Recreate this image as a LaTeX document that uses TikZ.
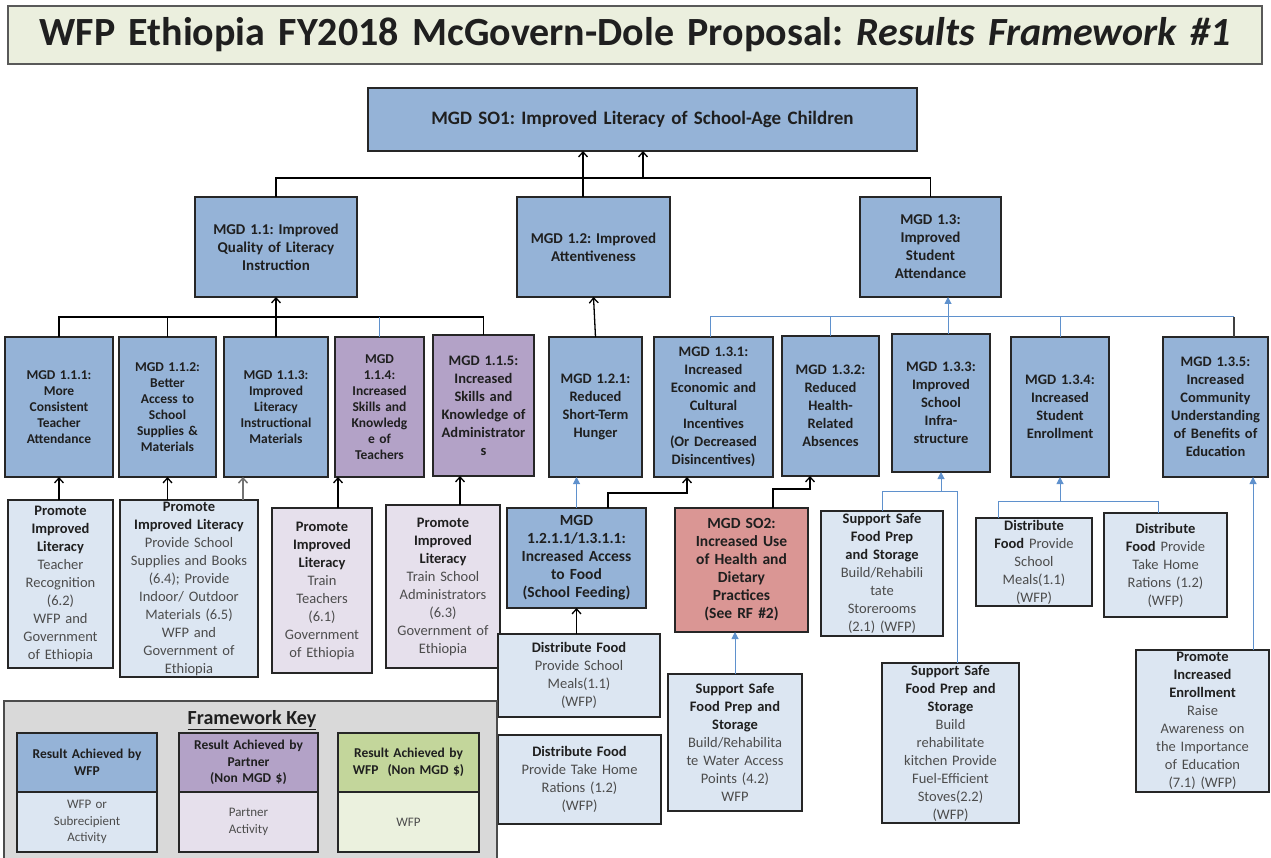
\documentclass[tikz,border=0pt]{standalone}
\usepackage{fontspec}
\setmainfont{Carlito}
\usetikzlibrary{arrows.meta,calc}
\frenchspacing
\definecolor{resblue}{RGB}{149,179,215}
\definecolor{respurple}{RGB}{179,162,199}
\definecolor{resgreen}{RGB}{195,214,155}
\definecolor{actblue}{RGB}{220,230,242}
\definecolor{actpurple}{RGB}{230,224,236}
\definecolor{actgreen}{RGB}{235,241,222}
\definecolor{sotwored}{RGB}{218,150,148}
\definecolor{titlebg}{RGB}{235,239,222}
\definecolor{keygray}{RGB}{217,217,217}
\definecolor{linkblue}{RGB}{95,145,205}
\newcommand{\bx}[7]{%
  \pgfmathsetmacro{\bxw}{#4-#2}\pgfmathsetmacro{\bxh}{#5-#3}\pgfmathsetmacro{\bxt}{#4-#2-4}%
  \node[#6, anchor=north west, minimum width=\bxw pt, minimum height=\bxh pt, text width=\bxt pt] (#1) at (#2,#3) {#7};}
\newcommand{\acthead}[1]{\textbf{\textcolor{black!88}{#1}}}
\begin{document}
\begin{tikzpicture}[x=1pt,y=-1pt,
  boxbase/.style={draw=black!85, line width=1.8pt, align=center, inner xsep=2pt, inner ysep=0pt, outer sep=0pt, text=black!88},
  resbox/.style={boxbase, fill=resblue},
  partbox/.style={boxbase, fill=respurple},
  actbox/.style={boxbase, fill=actblue, text=black!70},
  pactbox/.style={boxbase, fill=actpurple, text=black!70},
  ftwo/.style={font=\fontsize{15}{18}\selectfont\bfseries},
  fsmall/.style={font=\fontsize{13.5}{16}\selectfont\bfseries},
  fmid/.style={font=\fontsize{14.5}{18}\selectfont\bfseries},
  fact/.style={font=\fontsize{14.5}{18}\selectfont},
  fkey/.style={font=\fontsize{13}{16.5}\selectfont},
  blk/.style={draw=black, line width=1.3pt},
  blkarr/.style={blk, -{Straight Barb[length=5pt,width=9pt,line width=1.3pt]}},
  grayarr/.style={draw=black!55, line width=1.8pt, -{Straight Barb[length=5pt,width=9pt,line width=1.5pt]}},
  bl/.style={draw=linkblue, line width=1pt},
  blarr/.style={bl, -{Triangle[length=7pt,width=7pt]}}
]
\useasboundingbox (0,0) rectangle (1271,858);

% title
\bx{title}{8}{6}{1262}{64}{boxbase, fill=titlebg, draw=black!65, line width=2pt, font=\fontsize{40}{44}\selectfont\bfseries}{WFP Ethiopia FY2018 McGovern-Dole Proposal: \textit{Results Framework \#1}}

% level 1
\bx{so1}{368}{88}{917}{151}{resbox, font=\fontsize{19}{22}\selectfont\bfseries}{MGD SO1: Improved Literacy of School-Age Children}

% level 2
\bx{m11}{195}{197}{357}{297}{resbox, ftwo}{MGD 1.1: Improved\\Quality of Literacy\\Instruction}
\bx{m12}{517}{197}{670}{297}{resbox, ftwo}{MGD 1.2: Improved\\Attentiveness}
\bx{m13}{860}{197}{1001}{297}{resbox, ftwo}{MGD 1.3:\\Improved\\Student\\Attendance}

% level 3
\bx{m111}{5}{337}{113}{477}{resbox, fsmall}{MGD 1.1.1:\\More\\Consistent\\Teacher\\Attendance}
\bx{m112}{119}{337}{216}{477}{resbox, fsmall}{MGD 1.1.2:\\Better\\Access to\\School\\Supplies \&\\Materials}
\bx{m113}{224}{337}{328}{477}{resbox, fsmall}{MGD 1.1.3:\\Improved\\Literacy\\Instructional\\Materials}
\bx{m114}{335}{337}{424}{477}{partbox, fsmall}{MGD\\1.1.4:\\Increased\\Skills and\\Knowledg\\e of\\Teachers}
\bx{m115}{433}{335}{534}{476}{partbox, fmid}{MGD 1.1.5:\\Increased\\Skills and\\Knowledge of\\Administrator\\s}
\bx{m121}{549}{337}{642}{477}{resbox, fmid}{MGD 1.2.1:\\Reduced\\Short-Term\\Hunger}
\bx{m131}{654}{337}{773}{477}{resbox, fmid}{MGD 1.3.1:\\Increased\\Economic and\\Cultural\\Incentives\\(Or Decreased\\Disincentives)}
\bx{m132}{782}{336}{879}{476}{resbox, fmid}{MGD 1.3.2:\\Reduced\\Health-\\Related\\Absences}
\bx{m133}{892}{334}{990}{472}{resbox, fmid}{MGD 1.3.3:\\Improved\\School\\Infra-\\structure}
\bx{m134}{1011}{337}{1109}{477}{resbox, fmid}{MGD 1.3.4:\\Increased\\Student\\Enrollment}
\bx{m135}{1163}{337}{1268}{477}{resbox, fmid}{MGD 1.3.5:\\Increased\\Community\\Understanding\\of Benefits of\\Education}

% level 4 (left)
\bx{a1}{8}{500}{113}{668}{actbox, fact}{\acthead{Promote}\\\acthead{Improved}\\\acthead{Literacy}\\Teacher\\Recognition\\(6.2)\\WFP and\\Government\\of Ethiopia}
\bx{a2}{120}{500}{258}{677}{actbox, fact}{\acthead{Promote}\\\acthead{Improved Literacy}\\Provide School\\Supplies and Books\\(6.4); Provide\\Indoor/ Outdoor\\Materials (6.5)\\WFP and\\Government of\\Ethiopia}
\bx{a3}{272}{508}{372}{673}{pactbox, fact}{\acthead{Promote}\\\acthead{Improved}\\\acthead{Literacy}\\Train\\Teachers\\(6.1)\\Government\\of Ethiopia}
\bx{a4}{386}{505}{500}{668}{pactbox, fact}{\acthead{Promote}\\\acthead{Improved}\\\acthead{Literacy}\\Train School\\Administrators\\(6.3)\\Government of\\Ethiopia}

% level 4 (middle/right)
\bx{m1211}{507}{508}{646}{608}{resbox, font=\fontsize{15.5}{18}\selectfont\bfseries}{MGD\\1.2.1.1/1.3.1.1:\\Increased Access\\to Food\\(School Feeding)}
\bx{so2}{675}{508}{808}{632}{boxbase, fill=sotwored, font=\fontsize{15.5}{18}\selectfont\bfseries}{MGD SO2:\\Increased Use\\of Health and\\Dietary\\Practices\\(See RF \#2)}
\bx{df1}{498}{634}{660}{717}{actbox, fact}{\acthead{Distribute Food}\\Provide School\\Meals(1.1)\\(WFP)}
\bx{df2}{498}{735}{661}{824}{actbox, fact}{\acthead{Distribute Food}\\Provide Take Home\\Rations (1.2)\\(WFP)}
\bx{s1}{668}{674}{802}{811}{actbox, fact}{\acthead{Support Safe}\\\acthead{Food Prep and}\\\acthead{Storage}\\Build/Rehabilita\\te Water Access\\Points (4.2)\\WFP}
\bx{s2}{821}{511}{943}{636}{actbox, fact}{\acthead{Support Safe}\\\acthead{Food Prep}\\\acthead{and Storage}\\Build/Rehabili\\tate\\Storerooms\\(2.1) (WFP)}
\bx{s3}{882}{663}{1019}{823}{actbox, fact}{\acthead{Support Safe}\\\acthead{Food Prep and}\\\acthead{Storage}\\Build\\rehabilitate\\kitchen Provide\\Fuel-Efficient\\Stoves(2.2)\\(WFP)}
\bx{d1}{976}{518}{1092}{606}{actbox, fact}{\acthead{Distribute}\\\acthead{Food} Provide\\School\\Meals(1.1)\\(WFP)}
\bx{d2}{1104}{513}{1227}{617}{actbox, fact}{\acthead{Distribute}\\\acthead{Food} Provide\\Take Home\\Rations (1.2)\\(WFP)}
\bx{p1}{1136}{650}{1269}{792}{actbox, fact}{\acthead{Promote}\\\acthead{Increased}\\\acthead{Enrollment}\\Raise\\Awareness on\\the Importance\\of Education\\(7.1) (WFP)}

% framework key
\bx{key}{4}{701}{497}{866}{boxbase, fill=keygray, draw=black!70}{}
\node[font=\fontsize{20}{24}\selectfont\bfseries, text=black!88] (keyt) at (252,720) {\underline{Framework Key}};
\bx{k1a}{17}{733}{157}{792}{resbox, font=\fontsize{13.5}{16.5}\selectfont\bfseries}{Result Achieved by\\WFP}
\bx{k1b}{17}{792}{157}{852}{actbox, fkey}{WFP or\\Subrecipient\\Activity}
\bx{k2a}{179}{733}{318}{792}{partbox, font=\fontsize{13.5}{16.5}\selectfont\bfseries}{Result Achieved by\\Partner\\(Non MGD \$)}
\bx{k2b}{179}{792}{318}{852}{pactbox, fkey}{Partner\\Activity}
\bx{k3a}{338}{733}{479}{792}{boxbase, fill=resgreen, font=\fontsize{13.5}{16.5}\selectfont\bfseries}{Result Achieved by\\WFP\ \ (Non MGD \$)}
\bx{k3b}{338}{792}{479}{852}{boxbase, fill=actgreen, text=black!70, fkey}{WFP}

% ---- connectors ----
\coordinate (t1) at (276,178);
\coordinate (t3) at (930.5,178);
\coordinate (t2) at (643,178);
\coordinate (t4) at (583,178);
\draw[blk] (m11.north) -- (t1) -- (t3) -- (m13.north);
\draw[blkarr] (t2) -- (so1.south -| t2);
\draw[blkarr] (m12.north -| t4) -- (so1.south -| t4);

\coordinate (u0) at (59,317);
\coordinate (u5) at (483.5,317);
\draw[blk] (m111.north) -- (u0) -- (u5) -- (m115.north);
\draw[blk] (m112.north) -- (m112.north |- u0);
\draw[blk] (m113.north) -- (m113.north |- u0);
\draw[blkarr] (m11.south |- u0) -- (m11.south);
\draw[bl] (m114.north) -- (m114.north |- u0);

\draw[blkarr] (m121.north) -- (m12.south);

\coordinate (v0) at (710,317);
\coordinate (v5) at (1234,317);
\coordinate (v3) at (948,317);
\draw[bl] (m131.north -| v0) -- (v0) -- (v5);
\draw[draw=black!75, line width=1.3pt] (v5) -- (m135.north -| v5);
\draw[bl] (m132.north) -- (m132.north |- v0);
\draw[bl] (m134.north) -- (m134.north |- v0);
\draw[blarr] (m133.north -| v3) -- (m13.south -| v3);

\coordinate (w1) at (243,490);
\coordinate (w2) at (338,490);
\coordinate (w3) at (460,490);
\draw[blkarr] (a1.north -| m111.south) -- (m111.south);
\draw[blkarr] (a2.north -| m112.south) -- (m112.south);
\draw[grayarr] (a2.north -| w1) -- (m113.south -| w1);
\draw[blkarr] (a3.north -| w2) -- (m114.south -| w2);
\draw[blkarr] (a4.north -| w3) -- (m115.south -| w3);

\coordinate (w4) at (608,493);
\coordinate (w5) at (687,493);
\coordinate (w6) at (773,489);
\coordinate (w7) at (810,489);
\draw[blarr] (m1211.north) -- (m121.south -| m1211.north);
\draw[blkarr] (m1211.north -| w4) -- (w4) -- (w5) -- (m131.south -| w5);
\draw[blkarr] (so2.north -| w6) -- (w6) -- (w7) -- (m132.south -| w7);
\draw[blkarr] (df1.north -| m1211.south) -- (m1211.south);
\draw[blarr] (s1.north) -- (so2.south -| s1.north);

\coordinate (w8) at (882,491);
\coordinate (w9) at (957,491);
\draw[bl] (s2.north) -- (w8) -- (w9) -- (s3.north -| w9);
\draw[blarr] (m133.south |- w8) -- (m133.south);

\coordinate (w11) at (998,501);
\coordinate (w12) at (1158,501);
\draw[bl] (d1.north -| w11) -- (w11) -- (w12) -- (d2.north -| w12);
\draw[blarr] (m134.south |- w11) -- (m134.south);

\coordinate (w13) at (1253,600);
\draw[blarr] (p1.north -| w13) -- (m135.south -| w13);
\end{tikzpicture}
\end{document}
